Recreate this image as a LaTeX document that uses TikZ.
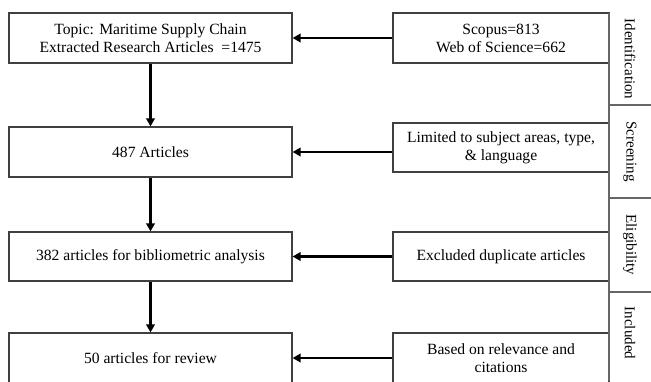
\documentclass[tikz,border=0pt]{standalone}
\usepackage{fontspec}
\setmainfont{Liberation Serif}
\usepackage{tikz}
\usetikzlibrary{arrows.meta}

\tikzset{
  stagebox/.style={draw=black!75, line width=1.2pt, align=center, inner sep=2pt,
    font=\fontsize{15.6}{18}\selectfont},
  flowarrow/.style={line width=2.2pt, -{Triangle[length=8pt, width=8.5pt]}},
  phaselabel/.style={rotate=-90, font=\fontsize{15}{18}\selectfont}
}

\begin{document}
\begin{tikzpicture}[x=1pt, y=-1pt]
    \useasboundingbox (0, 0) rectangle (651, 381);
    \clip (0, 0) rectangle (651, 381);

    % left column
    \node [stagebox, minimum width=283pt, minimum height=50pt] (topic) at (150.5, 38)
      {Topic: Maritime Supply Chain\\Extracted Research Articles \ =1475};
    \node [stagebox, minimum width=283pt, minimum height=50pt] (articles) at (150.5, 152)
      {487 Articles};
    \node [stagebox, minimum width=283pt, minimum height=49pt] (biblio) at (150.5, 256.5)
      {382 articles for bibliometric analysis};
    \node [stagebox, minimum width=283pt, minimum height=50pt] (review) at (150.5, 358)
      {50 articles for review};

    % right column
    \node [stagebox, minimum width=216pt, minimum height=50pt] (sources) at (501, 38)
      {Scopus=813\\Web of Science=662};
    \node [stagebox, minimum width=216pt, minimum height=49pt] (limited) at (501, 147.5)
      {Limited to subject areas, type,\\\& language};
    \node [stagebox, minimum width=216pt, minimum height=49pt] (duplicates) at (501, 256.5)
      {Excluded duplicate articles};
    \node [stagebox, minimum width=216pt, minimum height=50pt] (relevance) at (501, 358)
      {Based on relevance and\\citations};

    \draw [flowarrow] (topic) -- (articles);
    \draw [flowarrow] (articles) -- (biblio);
    \draw [flowarrow] (biblio) -- (review);

    \draw [flowarrow] (sources.west) -- (topic.east);
    \draw [flowarrow] (limited.west |- articles.east) -- (articles.east);
    \draw [flowarrow] (duplicates.west) -- (biblio.east);
    \draw [flowarrow] (relevance.west) -- (review.east);

    % phase strip
    \draw [black!60, line width=1.2pt] (609, 13) -- (609, 381);
    \draw [black!60, line width=1.2pt] (609, 105) -- (651, 105);
    \draw [black!60, line width=1.2pt] (609, 198) -- (651, 198);
    \draw [black!60, line width=1.2pt] (609, 292) -- (651, 292);
    \node [phaselabel] (ident) at (630, 59) {Identification};
    \node [phaselabel] (screen) at (630, 151.5) {Screening};
    \node [phaselabel] (elig) at (630, 245) {Eligibility};
    \node [phaselabel] (incl) at (630, 333) {Included};
\end{tikzpicture}
\end{document}
